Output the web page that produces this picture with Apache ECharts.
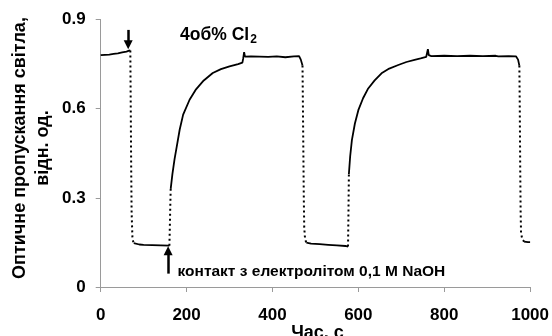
<!DOCTYPE html>
<html><head><meta charset="utf-8">
<script src="https://cdn.jsdelivr.net/npm/echarts@6/dist/echarts.min.js"></script>
<style>html,body{margin:0;padding:0;background:#fff}#c{width:552px;height:336px}</style>
</head><body><div id="c"></div>
<script>
// Solid (measured) parts of the curve; null = gap
const solidTime = [0,10,20,30,40,50,60,66,69, null,
  77,80,90,100,120,140,160, null,
  163,167,172,178,184,192,207,222,240,261,280,300,320,330,332,334,336,350,370,390,410,430,450,462,466,470, null,
  479,490,510,530,550,570,576, null,
  578,581,585,592,600,611,623,638,654,672,693,712,731,745,758,760,762,764,770,800,830,860,890,920,923,926,950,967,972,975, null,
  986,995,1000];
const solidValue = [0.780,0.781,0.782,0.784,0.786,0.789,0.792,0.795,0.796, null,
  0.148,0.145,0.143,0.142,0.141,0.140,0.139, null,
  0.330,0.380,0.430,0.480,0.530,0.580,0.630,0.665,0.695,0.720,0.733,0.742,0.750,0.755,0.770,0.790,0.775,0.776,0.775,0.774,0.776,0.773,0.776,0.777,0.765,0.745, null,
  0.149,0.146,0.144,0.142,0.140,0.138,0.136, null,
  0.380,0.440,0.494,0.550,0.595,0.635,0.668,0.695,0.719,0.735,0.747,0.757,0.764,0.769,0.774,0.778,0.800,0.780,0.777,0.778,0.777,0.778,0.777,0.778,0.772,0.776,0.777,0.776,0.765,0.745, null,
  0.153,0.151,0.151];
// Fast transitions (sparse points, drawn dotted)
const dotTime = [69,70,71,72,74,77, null, 160,161,162,163, null, 470,471,472,473,474,476,479, null, 576,577,578, null, 975,976,977,978,979,982,986];
const dotValue = [0.796,0.600,0.400,0.250,0.160,0.148, null, 0.139,0.200,0.270,0.330, null, 0.745,0.600,0.450,0.300,0.200,0.160,0.149, null, 0.136,0.250,0.380, null, 0.745,0.600,0.400,0.250,0.180,0.160,0.153];
const xTicks = [0,200,400,600,800,1000];
const yTicks = [0,0.3,0.6,0.9];
// Arrow annotations [x, yStart, yEnd]
const arrowDown = [64, 0.865, 0.815];
const arrowUp = [157, 0.045, 0.122];

const toPairs = (t, v) => t.map((x, i) => x === null ? ['-', '-'] : [x, v[i]]);
const FONT = "'Liberation Sans', Arial, sans-serif";
const chart = echarts.init(document.getElementById('c'));
const arrowLine = a => [{coord: [a[0], a[1]]}, {coord: [a[0], a[2]]}];
chart.setOption({
  animation: false,
  grid: {left: 100.7, right: 19.3, top: 19.5, bottom: 49},
  xAxis: {type: 'value', min: xTicks[0], max: xTicks[xTicks.length-1], interval: 200,
    axisLine: {lineStyle: {color: '#9a9a9a', width: 1}},
    axisTick: {show: true, length: 5, lineStyle: {color: '#9a9a9a'}},
    axisLabel: {color: '#000', fontWeight: 'bold', fontSize: 17, fontFamily: FONT, margin: 20,
      formatter: v => String(v)},
    splitLine: {show: false}},
  yAxis: {type: 'value', min: yTicks[0], max: yTicks[yTicks.length-1], interval: 0.3,
    axisLine: {show: true, lineStyle: {color: '#9a9a9a', width: 1}},
    axisTick: {show: true, length: 5, lineStyle: {color: '#9a9a9a'}},
    axisLabel: {color: '#000', fontWeight: 'bold', fontSize: 17, fontFamily: FONT, margin: 15,
      formatter: v => String(Math.round(v*10)/10)},
    splitLine: {show: false}},
  series: [
    {type: 'line', data: toPairs(solidTime, solidValue), showSymbol: false, connectNulls: false,
     lineStyle: {color: '#000', width: 1.8}, silent: true,
     markLine: {silent: true, symbol: ['none', 'triangle'], symbolSize: [9, 9],
       lineStyle: {color: '#000', width: 2.5, type: 'solid'}, label: {show: false},
       data: [arrowLine(arrowDown), arrowLine(arrowUp)]}},
    {type: 'line', data: toPairs(dotTime, dotValue), showSymbol: false, connectNulls: false,
     lineStyle: {color: '#000', width: 2, type: [2, 3]}, silent: true}
  ],
  graphic: [
    {type: 'text', x: 20.5, y: 148, rotation: Math.PI/2,
     style: {text: 'Оптичне пропускання світла,', font: "bold 18px " + FONT, fill: '#000', align: 'center', verticalAlign: 'middle'}},
    {type: 'text', x: 43, y: 148, rotation: Math.PI/2,
     style: {text: 'відн. од.', font: "bold 18px " + FONT, fill: '#000', align: 'center', verticalAlign: 'middle'}},
    {type: 'text', x: 317.5, y: 324,
     style: {text: 'Час, с', font: "bold 18px " + FONT, fill: '#000', align: 'center', verticalAlign: 'top'}},
    {type: 'text', x: 177.5, y: 272,
     style: {text: 'контакт з електролітом 0,1 М NaOH', font: "bold 15.5px " + FONT, fill: '#000', align: 'left', verticalAlign: 'middle'}},
    {type: 'text', x: 180, y: 25,
     style: {text: '{a|4об% Cl}{s|2}', fill: '#000', verticalAlign: 'top',
       rich: {a: {font: "bold 17.5px " + FONT, fill: '#000'}, s: {font: "bold 12px " + FONT, fill: '#000', padding: [9, 0, 0, 1]}}}}
  ]
});
</script></body></html>
